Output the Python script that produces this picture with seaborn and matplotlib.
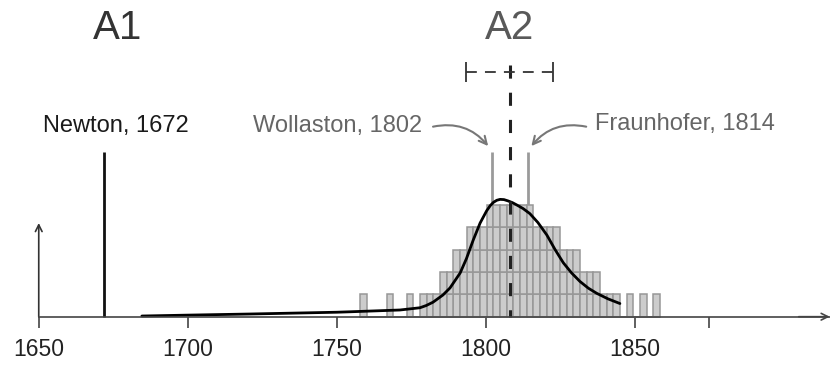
import matplotlib as mpl

mpl.use("Agg")  # headless

import matplotlib.pyplot as plt
import numpy as np
import pandas as pd
import seaborn as sns

# ---- data ------------------------------------------------------------------
# histogram cells: bin centre (year) and number of stacked cells in that bin
bin_years = [
    1758.9, 1767.9, 1774.6,
    1779.1, 1781.3, 1783.5, 1785.8, 1788.0, 1790.3, 1792.5, 1794.7, 1797.0,
    1799.2, 1801.4, 1803.7, 1805.9, 1808.1, 1810.4, 1812.6, 1814.9, 1817.1,
    1819.3, 1821.6, 1823.8, 1826.0, 1828.3, 1830.5, 1832.7, 1835.0, 1837.2,
    1839.4, 1841.7, 1843.9,
    1848.4, 1852.8, 1857.3,
]
bin_counts = [
    1, 1, 1,
    1, 1, 1, 2, 2, 3, 3, 4, 4,
    4, 5, 5, 5, 5, 5, 5, 5, 4,
    4, 4, 4, 3, 3, 3, 2, 2, 2,
    1, 1, 1,
    1, 1, 1,
]

# smooth density-like curve
curve_years = [
    1684.6, 1700.0, 1720.9, 1750.0, 1754.5, 1771.2, 1777.9, 1780.0, 1782.3,
    1785.6, 1788.0, 1791.4, 1793.5, 1795.8, 1798.1, 1800.3, 1801.5, 1802.6,
    1803.7, 1804.8, 1806.1, 1807.5, 1809.0, 1810.4, 1812.5, 1814.8, 1817.5,
    1820.5, 1823.2, 1826.0, 1828.8, 1831.6, 1834.4, 1837.2, 1841.0, 1845.0,
]
curve_values = [
    0.03, 0.07, 0.12, 0.20, 0.22, 0.30, 0.40, 0.50, 0.65,
    0.97, 1.29, 1.96, 2.60, 3.44, 4.20, 4.75, 4.98, 5.13,
    5.22, 5.26, 5.25, 5.19, 5.11, 5.01, 4.85, 4.62, 4.22,
    3.66, 3.02, 2.42, 1.96, 1.58, 1.28, 1.05, 0.80, 0.59,
]

tick_years = [1650, 1700, 1750, 1800, 1850, 1875]
tick_labels = ["1650", "1700", "1750", "1800", "1850", ""]

newton_year = 1672
wollaston_year = 1802
fraunhofer_year = 1814
estimate_year = 1808
estimate_err = 14.6

# ---- styling ----------------------------------------------------------------
sns.set_style("white")
plt.rcParams["font.family"] = ["Liberation Sans", "DejaVu Sans"]

BIN_START = 1757.82
BIN_WIDTH = 2.237
N_BINS = 45
BAR_FILL = "#cccccc"
BAR_EDGE = "#979797"
AXIS_COLOR = "#444444"

# one row per histogram cell, with its level in the stack
rows = []
for year, count in zip(bin_years, bin_counts):
    for level in range(count):
        rows.append({"year": year, "level": f"L{level}"})
cells = pd.DataFrame(rows)
levels = [f"L{i}" for i in range(max(bin_counts))]

fig = plt.figure(figsize=(8.3, 3.67), dpi=100)
ax = fig.add_axes([0, 0, 1, 1])

sns.histplot(
    data=cells,
    x="year",
    hue="level",
    hue_order=levels,
    multiple="stack",
    bins=np.linspace(BIN_START, BIN_START + N_BINS * BIN_WIDTH, N_BINS + 1),
    palette={lvl: BAR_FILL for lvl in levels},
    edgecolor=BAR_EDGE,
    linewidth=1.1,
    alpha=1,
    legend=False,
    ax=ax,
    zorder=2,
)

# markers for Wollaston / Fraunhofer and Newton
ax.vlines([wollaston_year, fraunhofer_year], 0, 7.37, color="#9a9a9a", lw=2, zorder=1)
ax.vlines(newton_year, 0, 7.37, color="#111111", lw=2, zorder=3)

sns.lineplot(x=curve_years, y=curve_values, color="black", lw=2, ax=ax, zorder=4)

# estimate with dashed error bar
ax.plot([estimate_year, estimate_year], [11.29, 0], color="#222222", lw=2.2,
        ls=(0, (4.3, 4.6)), zorder=5)
eb = ax.errorbar(estimate_year, 10.99, xerr=estimate_err, fmt="none", ecolor="#333333",
                 elinewidth=1.3, capsize=7, capthick=1.3, zorder=5)
eb[2][0].set_linestyle((0, (6, 4.5)))

# axes
ax.set_xlim(1637.0, 1915.5)
ax.set_ylim(-2.256, 14.20)
ax.set_xlabel("")
ax.set_ylabel("")
ax.set_yticks([])
for side in ["top", "right", "left"]:
    ax.spines[side].set_visible(False)
ax.spines["bottom"].set_position(("data", 0))
ax.spines["bottom"].set_bounds(1650, 1915.5)
ax.spines["bottom"].set_color(AXIS_COLOR)
ax.spines["bottom"].set_linewidth(1.2)
ax.spines["bottom"].set_zorder(6)
ax.set_xticks(tick_years, tick_labels)
ax.tick_params(axis="x", bottom=True, direction="out", length=8, width=1.2,
               color=AXIS_COLOR, labelsize=16.5, labelcolor="#222222", pad=7.5)
ax.annotate("", xy=(1650, 4.2), xytext=(1650, 0),
            arrowprops=dict(arrowstyle="->", color="#333333", lw=1.2,
                            shrinkA=0, shrinkB=0, mutation_scale=12))
ax.annotate("", xy=(1915.4, 0), xytext=(1905, 0),
            arrowprops=dict(arrowstyle="->", color=AXIS_COLOR, lw=1.2,
                            shrinkA=0, shrinkB=0, mutation_scale=12))

# labels
ax.text(1676.6, 12.44, "A1", fontsize=29, color="#333333", ha="center", va="baseline")
ax.text(1808.1, 12.44, "A2", fontsize=29, color="#595959", ha="center", va="baseline")
ax.text(1651.5, 8.28, "Newton, 1672", fontsize=17, color="#1a1a1a", va="baseline")
ax.text(1721.9, 8.28, "Wollaston, 1802", fontsize=17, color="#666666", va="baseline")
ax.text(1836.7, 8.37, "Fraunhofer, 1814", fontsize=17, color="#666666", va="baseline")

ax.annotate("", xy=(1800.8, 7.65), xytext=(1782.3, 8.52),
            arrowprops=dict(arrowstyle="->", color="#777777", lw=1.5,
                            connectionstyle="arc3,rad=-0.3", shrinkA=0, shrinkB=0,
                            mutation_scale=14))
ax.annotate("", xy=(1815.3, 7.65), xytext=(1833.7, 8.52),
            arrowprops=dict(arrowstyle="->", color="#777777", lw=1.5,
                            connectionstyle="arc3,rad=0.3", shrinkA=0, shrinkB=0,
                            mutation_scale=14))

fig.savefig("out.png", dpi=100)
